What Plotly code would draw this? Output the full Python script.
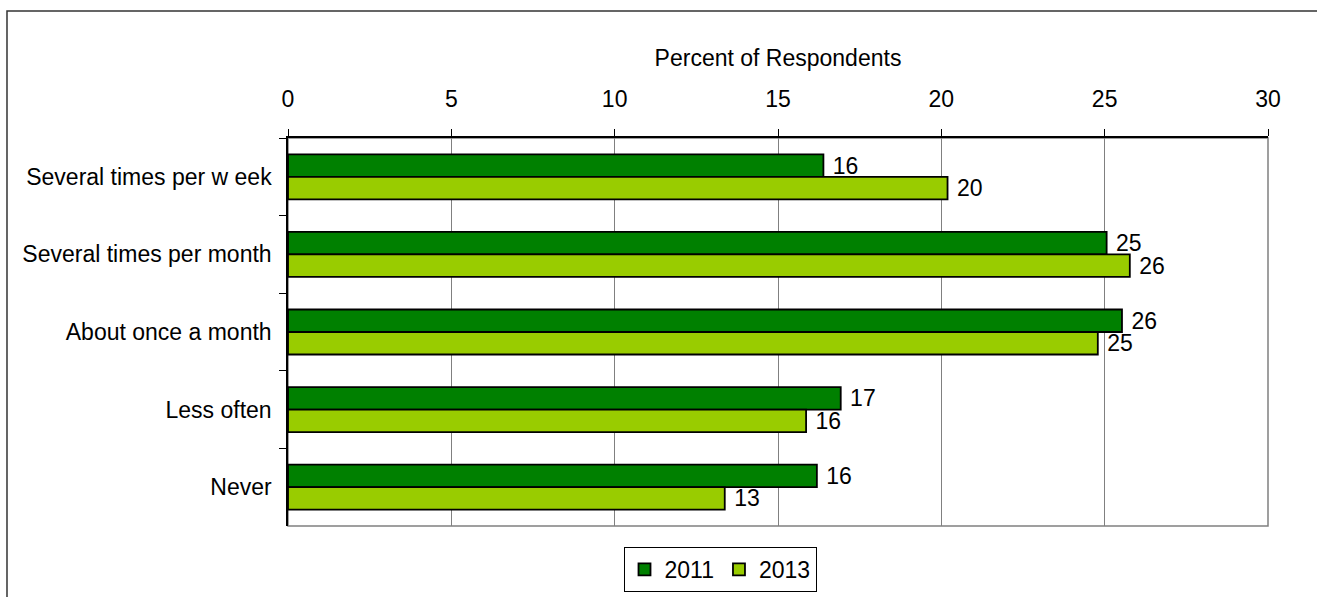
import plotly.graph_objects as go

categories = ["Several times per w eek", "Several times per month", "About once a month", "Less often", "Never"]
values_2011 = [16.39, 25.06, 25.53, 16.92, 16.19]
values_2013 = [20.19, 25.77, 24.79, 15.86, 13.37]
series_names = ["2011", "2013"]
x_ticks = [0, 5, 10, 15, 20, 25, 30]

FONT = "Liberation Sans, Arial, sans-serif"
FS = 23
W, H = 1318, 597
L, R, T, B = 288, 50, 138, 71
pw = W - L - R
ph = H - T - B

def px_x(p):
    return (p - L) / pw

def px_y(p):
    return (H - B - p) / ph

fig = go.Figure()
for name, vals, col in [(series_names[0], values_2011, "#008000"),
                        (series_names[1], values_2013, "#99CC00")]:
    fig.add_trace(go.Bar(
        y=categories, x=vals, name=name, orientation="h",
        marker=dict(color=col, line=dict(color="black", width=1.8)),
        texttemplate="\u00a0%{x:.0f}", textposition="outside",
        textfont=dict(family=FONT, size=FS, color="black"),
        constraintext="none", cliponaxis=False,
    ))

fig.update_layout(
    width=W, height=H,
    margin=dict(l=L, r=R, t=T, b=B, autoexpand=False),
    paper_bgcolor="white", plot_bgcolor="white",
    barmode="group", bargap=0.42, bargroupgap=0,
    font=dict(family=FONT, size=FS, color="black"),
    showlegend=True,
    legend=dict(orientation="h", x=px_x(720), xanchor="center",
                y=px_y(547), yanchor="top",
                bordercolor="black", borderwidth=1,
                font=dict(family=FONT, size=FS, color="black"),
                traceorder="normal", itemwidth=30),
    shapes=[
        dict(type="rect", xref="x domain", yref="y domain", x0=0, x1=1, y0=0, y1=1,
             line=dict(color="#808080", width=1.5), layer="below"),
        dict(type="path", xref="paper", yref="paper",
             path="M %f,%f L %f,%f L %f,%f" % (px_x(7), px_y(700), px_x(7), px_y(11), px_x(1317), px_y(11)),
             line=dict(color="#333333", width=1.5), layer="below"),
    ],
)

fig.update_xaxes(
    side="top", range=[0, 30], tickvals=x_ticks,
    ticks="outside", ticklen=7, tickcolor="black",
    showline=True, linecolor="black", linewidth=1.5,
    showgrid=True, gridcolor="#808080", gridwidth=1,
    zeroline=False, ticklabelstandoff=13,
    tickfont=dict(family=FONT, size=FS, color="black"),
    title=dict(text="Percent of Respondents", standoff=13,
               font=dict(family=FONT, size=FS, color="black")),
    fixedrange=True,
)
fig.update_yaxes(
    categoryorder="array", categoryarray=categories, autorange="reversed",
    ticks="outside", ticklen=7, tickcolor="black", tickson="boundaries",
    showline=True, linecolor="black", linewidth=1.5,
    showgrid=False, zeroline=False, ticklabelstandoff=10,
    tickfont=dict(family=FONT, size=FS, color="black"),
    fixedrange=True,
)

fig.write_html("out.html")
